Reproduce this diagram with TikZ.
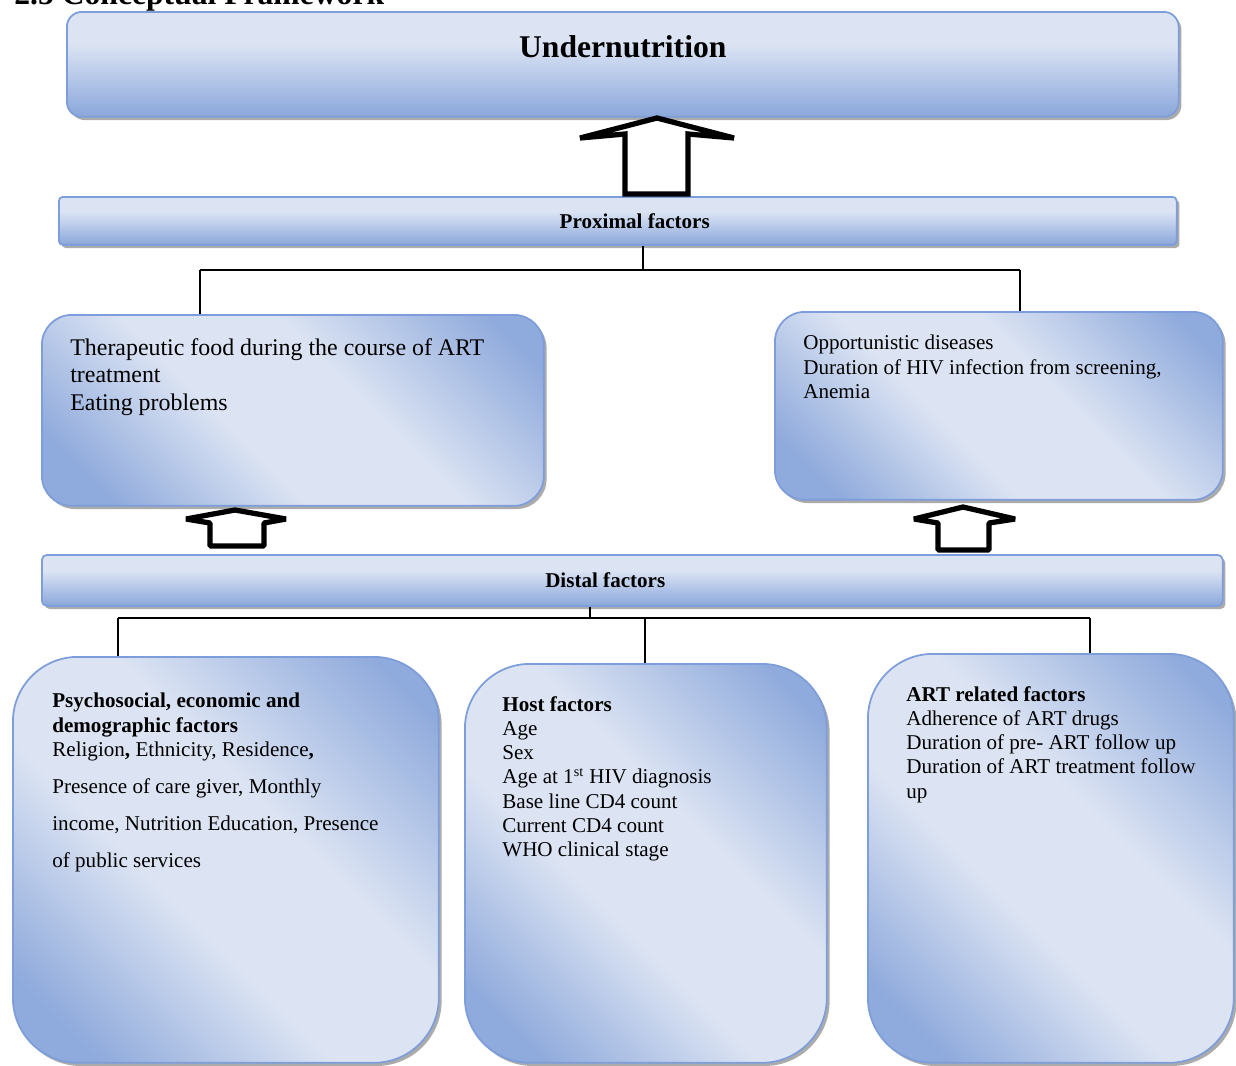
\documentclass[tikz,border=0pt]{standalone}
\usepackage{fontspec}
\setmainfont{Liberation Serif}
\usetikzlibrary{shadows}

\definecolor{blight}{RGB}{220,228,243}
\definecolor{bmid}{RGB}{185,202,234}
\definecolor{bdark}{RGB}{143,170,220}
\definecolor{bedge}{RGB}{125,158,218}

\pgfdeclarehorizontalshading{bandshade}{100bp}{color(0bp)=(bdark); color(22bp)=(bdark); color(42bp)=(blight); color(58bp)=(blight); color(80bp)=(bdark); color(100bp)=(bdark)}
\pgfdeclareverticalshading{barshade}{100bp}{color(0bp)=(bdark); color(27bp)=(bdark); color(45bp)=(bmid); color(60bp)=(blight); color(100bp)=(blight)}

\tikzset{
  boxbase/.style={anchor=north west, draw=bedge, line width=1pt, inner sep=0pt,
    drop shadow={shadow xshift=1.6pt, shadow yshift=-1.8pt, fill=black!55, opacity=.6}},
  barbox/.style={boxbase, shading=barshade},
  bandbox/.style={boxbase, shading=bandshade, shading angle=45},
  bodytxt/.style={anchor=north west, inner sep=0pt, align=left, font=\fontsize{12}{13.8}\selectfont},
  headtxt/.style={inner sep=0pt, font=\fontsize{12}{13.8}\selectfont\bfseries},
  conn/.style={line width=0.8pt},
  crossbar/.style={line width=1.4pt},
  hollow/.style={line width=3pt, fill=white},
  smallhollow/.style={hollow, line join=bevel}
}

\begin{document}
\begin{tikzpicture}[x=0.02cm,y=-0.02cm]
  \useasboundingbox (0,0) rectangle (1236,1065);

  \node[anchor=base west, inner sep=0pt, font=\fontsize{18}{20}\selectfont\bfseries] (title) at (14,4) {2.5 Conceptual Framework};

  \node[barbox, minimum width=22.24cm, minimum height=2.1cm, rounded corners=0.3cm] (under) at (66,11) {};
  \node[inner sep=0pt, font=\fontsize{18}{20}\selectfont\bfseries] (undertxt) at ([shift={(0,36)}]under.north) {Undernutrition};

  \node[barbox, minimum width=22.36cm, minimum height=0.96cm, rounded corners=0.08cm] (prox) at (58,196) {};
  \node[headtxt] (proxtxt) at ([shift={(17,0)}]prox.center) {Proximal factors};

  \node[bandbox, minimum width=10.04cm, minimum height=3.82cm, rounded corners=0.6cm] (ther) at (41,314) {};
  \node[bodytxt, font=\fontsize{13.6}{15.6}\selectfont] (thertxt) at ([shift={(29,24)}]ther.north west)
    {Therapeutic food during the course of ART\\treatment\\Eating problems};

  \node[bandbox, minimum width=8.96cm, minimum height=3.76cm, rounded corners=0.6cm] (opp) at (774,311) {};
  \node[bodytxt] (opptxt) at ([shift={(29,24)}]opp.north west)
    {Opportunistic diseases\\Duration of HIV infection from screening,\\Anemia};

  \node[barbox, minimum width=23.62cm, minimum height=1.02cm, rounded corners=0.1cm] (dist) at (41,554) {};
  \node[headtxt] (disttxt) at ([shift={(-27,0)}]dist.center) {Distal factors};

  \node[bandbox, minimum width=8.52cm, minimum height=8.12cm, rounded corners=1.3cm] (psy) at (12,656) {};
  \node[bodytxt] (psytxt) at ([shift={(40,37)}]psy.north west)
    {\textbf{Psychosocial, economic and}\\\textbf{demographic factors}\\Religion\textbf{,} Ethnicity, Residence\textbf{,}\\[7.2pt]
     Presence of care giver, Monthly\\[7.2pt]income, Nutrition Education, Presence\\[7.2pt]of public services};

  \node[bandbox, minimum width=7.24cm, minimum height=7.98cm, rounded corners=1.3cm] (host) at (464,663) {};
  \node[bodytxt] (hosttxt) at ([shift={(38,33)}]host.north west)
    {\textbf{Host factors}\\Age\\Sex\\Age at 1\textsuperscript{st} HIV diagnosis\\Base line CD4 count\\Current CD4 count\\WHO clinical stage};

  \node[bandbox, minimum width=7.32cm, minimum height=8.18cm, rounded corners=1.3cm] (art) at (867,653) {};
  \node[bodytxt] (arttxt) at ([shift={(39,33)}]art.north west)
    {\textbf{ART related factors}\\Adherence of ART drugs\\Duration of pre- ART follow up\\Duration of ART treatment follow\\up};

  \coordinate (pmid) at (643,270);
  \coordinate (pleft) at (200,270);
  \coordinate (pright) at (1020,270);
  \draw[conn] (prox.south -| pmid) -- (pmid);
  \draw[crossbar] (pleft) -- (pright);
  \draw[conn] (pleft) -- (pleft |- ther.north);
  \draw[conn] (pright) -- (pright |- opp.north);

  \coordinate (dmid) at (590,618);
  \coordinate (dleft) at (118,618);
  \coordinate (dcentre) at (645,618);
  \coordinate (dright) at (1090,618);
  \draw[conn] (dist.south -| dmid) -- (dmid);
  \draw[crossbar] (dleft) -- (dright);
  \draw[conn] (dleft) -- (dleft |- psy.north);
  \draw[conn] (dcentre) -- (dcentre |- host.north);
  \draw[conn] (dright) -- (dright |- art.north);

  \draw[hollow] (625,194) -- (625,134) -- (580,138) -- (657,118) -- (734,138) -- (688,134) -- (688,194) -- cycle;
  \draw[smallhollow] (210,546) -- (210,523) -- (186,519) -- (235,510) -- (286,519) -- (264,523) -- (264,546) -- cycle;
  \draw[smallhollow] (938,550) -- (938,523) -- (914,519) -- (963,507) -- (1015,519) -- (989,523) -- (989,550) -- cycle;
\end{tikzpicture}
\end{document}
